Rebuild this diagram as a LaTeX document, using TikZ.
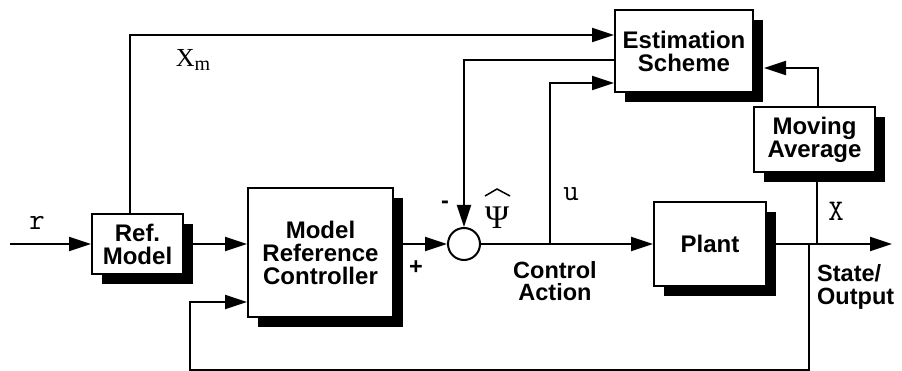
\documentclass[tikz,border=0pt]{standalone}
\usepackage{fontspec}
\setmainfont{Liberation Sans}
\newfontfamily\seriffnt{Liberation Serif}
\usetikzlibrary{arrows.meta,shadows}
\tikzset{
  blk/.style={draw, line width=2pt, fill=white, inner sep=0pt, align=center,
    font=\fontsize{24}{23}\selectfont\bfseries,
    drop shadow={shadow xshift=10pt, shadow yshift=-10pt, fill=black, opacity=1}},
  conn/.style={line width=2pt},
  arr/.style={conn, -{Triangle[length=22pt,width=14pt]}},
  lbl/.style={inner sep=0pt, font=\fontsize{23.5}{22.5}\selectfont\bfseries, align=center},
  sym/.style={inner sep=0pt, font=\fontsize{30}{30}\selectfont\ttfamily},
}
\begin{document}
\begin{tikzpicture}[x=1pt,y=-1pt]
\path[use as bounding box] (0,0) rectangle (902,371);
% blocks
\node[blk, minimum width=91pt, minimum height=60pt] (refm) at (137.5,244) {Ref.\\Model};
\node[blk, minimum width=145pt, minimum height=129pt] (mrc) at (320.5,252.5) {Model\\Reference\\Controller};
\node[draw, circle, line width=2pt, minimum size=32pt, inner sep=0pt, fill=white] (sum) at (464,244) {};
\node[blk, minimum width=112pt, minimum height=84pt] (plant) at (710,244) {Plant};
\node[blk, minimum width=138pt, minimum height=82pt] (est) at (684,51) {Estimation\\Scheme};
\node[blk, minimum width=121pt, minimum height=65pt] (mavg) at (814.5,139.5) {Moving\\Average};
% coordinates
\coordinate (rin) at (10,244);
\coordinate (out) at (892,244);
\coordinate (xmc) at (130,35);
\coordinate (psic) at (464,60);
\coordinate (uc) at (550,83);
\coordinate (ub) at (550,244);
\coordinate (mac) at (818,68);
\coordinate (xj) at (817,244);
\coordinate (fb1) at (809,244);
\coordinate (fb2) at (809,370);
\coordinate (fb3) at (190,370);
\coordinate (fb4) at (190,302);
% connectors
\draw[arr] (rin) -- (rin -| refm.west);
\draw[arr] (refm.east |- rin) -- (rin -| mrc.west);
\draw[arr] (mrc.east |- rin) -- (sum.west);
\draw[arr] (sum.east) -- (plant.west);
\draw[arr] (plant.east) -- (out);
\draw[arr] (refm.north -| xmc) -- (xmc) -- (xmc -| est.west);
\draw[arr] (est.west |- psic) -- (psic) -- (sum.north);
\draw[arr] (ub) -- (uc) -- (uc -| est.west);
\draw[arr] (mavg.north -| mac) -- (mac) -- ([xshift=10pt]est.east |- mac);
\draw[conn] (mavg.south -| xj) -- (xj);
\draw[arr] (fb1) -- (fb2) -- (fb3) -- (fb4) -- (fb4 -| mrc.west);
% labels
\node[sym] (rl) at (37,223) {r};
\node[sym] (ul) at (571,194) {u};
\node[sym] (xl) at (836,211) {X};
\node[inner sep=0pt] (xml) at (193,60) {\seriffnt\fontsize{26}{26}\selectfont X\raisebox{-4pt}{\fontsize{20}{20}\selectfont m}};
\node[inner sep=0pt, anchor=base, font=\seriffnt\fontsize{33}{33}\selectfont] (psil) at (497,229) {Ψ};
\draw[line width=1.5pt] (485,196) -- (497,189) -- (510,196);
\node[lbl] (minus) at (445,205) {-};
\node[lbl] (plus) at (416,268) {+};
\node[lbl] (ca) at (555,281) {Control\\Action};
\node[lbl, align=left, anchor=west] (so) at (817,287) {State/\\Output};
\end{tikzpicture}
\end{document}
